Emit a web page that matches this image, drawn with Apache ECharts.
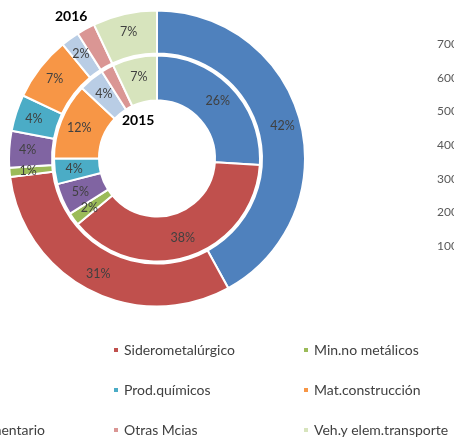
<!DOCTYPE html>
<html>
<head>
<meta charset="utf-8">
<script src="https://cdn.jsdelivr.net/npm/echarts@6/dist/echarts.min.js"></script>
<style>
  html, body { margin: 0; padding: 0; background: #fff; }
  #chart { width: 454px; height: 439px; }
</style>
</head>
<body>
<div id="chart"></div>
<script>
// sectores (orden del grafico, sentido horario desde arriba)
var sectores = ['Energético', 'Siderometalúrgico', 'Min.no metálicos', 'Abonos', 'Prod.químicos',
  'Mat.construcción', 'Agrog.y alimentario', 'Otras Mcias', 'Veh.y elem.transporte'];
var colores = ['#4F81BD', '#C0504D', '#9BBB59', '#8064A2', '#4BACC6', '#F79646', '#B9CDE5', '#DA9694', '#D7E4BD'];
var pct2016 = [42, 31, 1, 4, 4, 7, 2, 2, 7]; // anillo exterior
var pct2015 = [26, 38, 2, 5, 4, 12, 4, 2, 7]; // anillo interior
// eje del grafico de al lado (solo asoma por la derecha)
var ticksDerecha = [100, 200, 300, 400, 500, 600, 700];

var fuente = 'Lato, "Open Sans", sans-serif';

function datos(vals) {
  var arr = [];
  for (var i = 0; i < sectores.length; i++) {
    arr.push({ name: sectores[i], value: vals[i], itemStyle: { color: colores[i] } });
  }
  return arr;
}

function anillo(nombre, vals, radio) {
  return {
    name: nombre,
    type: 'pie',
    center: [157, 158.5],
    radius: radio,
    startAngle: 90,
    clockwise: true,
    animation: false,
    avoidLabelOverlap: false,
    itemStyle: { borderColor: '#fff', borderWidth: 2 },
    label: {
      show: true,
      position: 'inside',
      formatter: '{c}%',
      color: '#404040',
      fontSize: 12.5,
      fontFamily: fuente
    },
    labelLine: { show: false },
    emphasis: { disabled: true },
    data: datos(vals)
  };
}

// una leyenda por elemento, en rejilla de 3 columnas (la primera queda cortada)
var colX = [-86, 112, 302];
var filaY = [343, 383, 423];
var leyendas = [];
for (var i = 0; i < sectores.length; i++) {
  leyendas.push({
    left: colX[i % 3],
    top: filaY[Math.floor(i / 3)],
    padding: 0,
    itemWidth: 6,
    itemHeight: 6,
    icon: 'rect',
    selectedMode: false,
    textStyle: { color: '#404040', fontSize: 14, fontFamily: fuente },
    data: [sectores[i]]
  });
}

var chart = echarts.init(document.getElementById('chart'));
chart.setOption({
  backgroundColor: '#fff',
  animation: false,
  legend: leyendas,
  grid: { left: 462, top: 44, height: 202, width: 100 },
  xAxis: { type: 'category', show: false, data: [] },
  yAxis: {
    type: 'value',
    min: ticksDerecha[0],
    max: ticksDerecha[ticksDerecha.length - 1],
    interval: 100,
    axisLine: { show: false },
    axisTick: { show: false },
    splitLine: { show: false },
    axisLabel: { color: '#595959', fontSize: 12, fontFamily: fuente, margin: 4 }
  },
  graphic: [
    { type: 'text', left: 55, top: 9, style: { text: '2016', fill: '#000', font: 'bold 14px ' + fuente } },
    { type: 'text', left: 122, top: 113, style: { text: '2015', fill: '#000', font: 'bold 14px ' + fuente } }
  ],
  series: [
    anillo('2016', pct2016, [105, 148]),
    anillo('2015', pct2015, [58, 103])
  ]
});
</script>
</body>
</html>
